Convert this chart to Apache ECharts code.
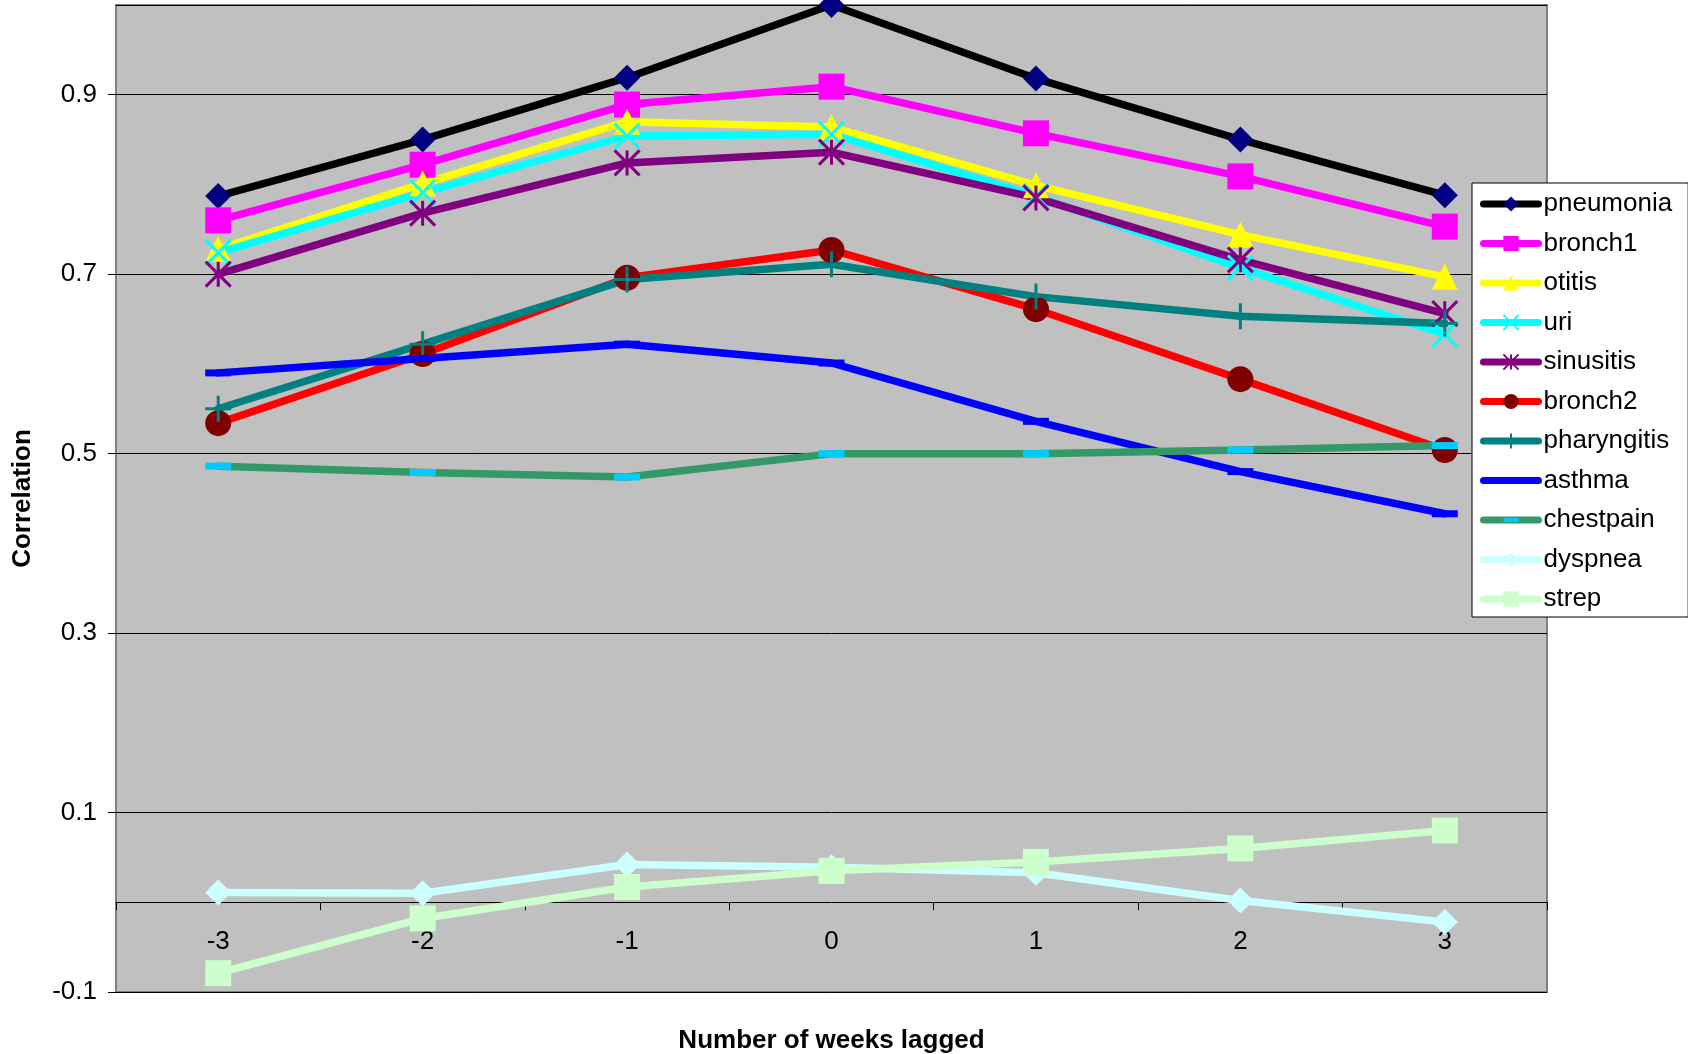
<!DOCTYPE html>
<html>
<head>
<meta charset="utf-8">
<script src="https://cdn.jsdelivr.net/npm/echarts@6/dist/echarts.min.js"></script>
<style>
html,body{margin:0;padding:0;background:#fff;}
#chart{width:1688px;height:1054px;}
</style>
</head>
<body>
<div id="chart"></div>
<script>
const lags = ['-3', '-2', '-1', '0', '1', '2', '3'];
const pneumonia   = [0.787, 0.850, 0.919, 1.000, 0.918, 0.850, 0.788];
const bronch1     = [0.760, 0.822, 0.889, 0.909, 0.857, 0.809, 0.753];
const otitis      = [0.728, 0.801, 0.870, 0.864, 0.799, 0.744, 0.697];
const uri         = [0.724, 0.791, 0.854, 0.856, 0.787, 0.707, 0.633];
const sinusitis   = [0.700, 0.768, 0.824, 0.836, 0.785, 0.716, 0.656];
const bronch2     = [0.534, 0.611, 0.696, 0.727, 0.661, 0.583, 0.504];
const pharyngitis = [0.550, 0.622, 0.694, 0.711, 0.675, 0.653, 0.645];
const asthma      = [0.590, 0.606, 0.622, 0.601, 0.536, 0.480, 0.433];
const chestpain   = [0.486, 0.479, 0.474, 0.500, 0.500, 0.504, 0.509];
const dyspnea     = [0.011, 0.010, 0.042, 0.039, 0.033, 0.002, -0.022];
const strep       = [-0.079, -0.018, 0.017, 0.035, 0.045, 0.060, 0.080];

const FONT = '"Liberation Sans", Arial, sans-serif';
const SYM_X = 'path://M0,0L10,10M10,0L0,10';
const SYM_AST = 'path://M0,0L10,10M10,0L0,10M5,0L5,10';
const SYM_PLUS = 'path://M0,5L10,5M5,0L5,10';
// horizontal dash centred in a square box (degenerate corner points keep the box square)
const SYM_DASH = 'path://M0,0L0,0M26,26L26,26M0,9.5L26,9.5L26,16.5L0,16.5Z';

function mk(name, data, lineColor, symbol, size, itemStyle) {
  return {
    name: name,
    type: 'line',
    data: data,
    symbol: symbol,
    symbolSize: size,
    showSymbol: true,
    showAllSymbol: true,
    clip: false,
    lineStyle: { color: lineColor, width: 7.5, cap: 'round', join: 'round' },
    itemStyle: itemStyle,
    emphasis: { disabled: true }
  };
}
const stroke = (c, w) => ({ color: 'rgba(0,0,0,0)', borderColor: c, borderWidth: w });

const series = [
  mk('pneumonia', pneumonia, '#000000', 'diamond', 26, { color: '#000080' }),
  mk('bronch1', bronch1, '#FF00FF', 'rect', 26, { color: '#FF00FF' }),
  mk('otitis', otitis, '#FFFF00', 'triangle', 26, { color: '#FFFF00' }),
  mk('uri', uri, '#00FFFF', SYM_X, 25, stroke('#00FFFF', 3)),
  mk('sinusitis', sinusitis, '#800080', SYM_AST, 25, stroke('#800080', 3)),
  mk('bronch2', bronch2, '#FF0000', 'circle', 26, { color: '#800000' }),
  mk('pharyngitis', pharyngitis, '#008080', SYM_PLUS, 26, stroke('#008080', 3)),
  mk('asthma', asthma, '#0000FF', SYM_DASH, 26, { color: '#0000FF' }),
  mk('chestpain', chestpain, '#339966', SYM_DASH, 26, { color: '#00CCFF' }),
  mk('dyspnea', dyspnea, '#CCFFFF', 'diamond', 26, { color: '#CCFFFF' }),
  mk('strep', strep, '#CCFFCC', 'rect', 26, { color: '#CCFFCC' })
];

const chart = echarts.init(document.getElementById('chart'), null, { renderer: 'canvas' });
chart.setOption({
  animation: false,
  backgroundColor: '#ffffff',
  textStyle: { fontFamily: FONT, color: '#000' },
  grid: {
    left: 116, right: 141, top: 5, bottom: 62,
    containLabel: false,
    outerBoundsMode: 'none',
    show: true, backgroundColor: '#C0C0C0', borderColor: '#808080', borderWidth: 2
  },
  legend: {
    orient: 'vertical',
    left: 1472, top: 183,
    padding: [8, 16, 5, 8],
    itemWidth: 55, itemHeight: 19, itemGap: 13.5,
    backgroundColor: '#ffffff', borderColor: '#000000', borderWidth: 1,
    lineStyle: { width: 7, cap: 'round' },
    textStyle: { fontFamily: FONT, fontSize: 26, color: '#000' },
    data: series.map(s => s.name)
  },
  xAxis: {
    type: 'category',
    data: lags,
    boundaryGap: true,
    name: 'Number of weeks lagged',
    nameLocation: 'middle',
    nameGap: 36,
    nameTextStyle: { fontFamily: FONT, fontSize: 26, fontWeight: 'bold', color: '#000' },
    axisLine: { show: true, onZero: true, lineStyle: { color: '#000', width: 1 } },
    axisTick: { show: true, length: 8, lineStyle: { color: '#000', width: 1 } },
    axisLabel: { fontFamily: FONT, fontSize: 26, color: '#000', margin: -63 },
    splitLine: { show: false }
  },
  yAxis: {
    type: 'value',
    min: -0.1, max: 1.0, interval: 0.2,
    name: 'Correlation',
    nameLocation: 'middle',
    nameRotate: 90,
    nameGap: 80,
    nameTextStyle: { fontFamily: FONT, fontSize: 26, fontWeight: 'bold', color: '#000' },
    axisLine: { show: false },
    axisTick: { show: true, length: 8, lineStyle: { color: '#000', width: 1 } },
    axisLabel: { fontFamily: FONT, fontSize: 26, color: '#000', margin: 19, showMaxLabel: false },
    splitLine: { show: true, lineStyle: { color: '#000', width: 1 } }
  },
  series: series
});
</script>
</body>
</html>
